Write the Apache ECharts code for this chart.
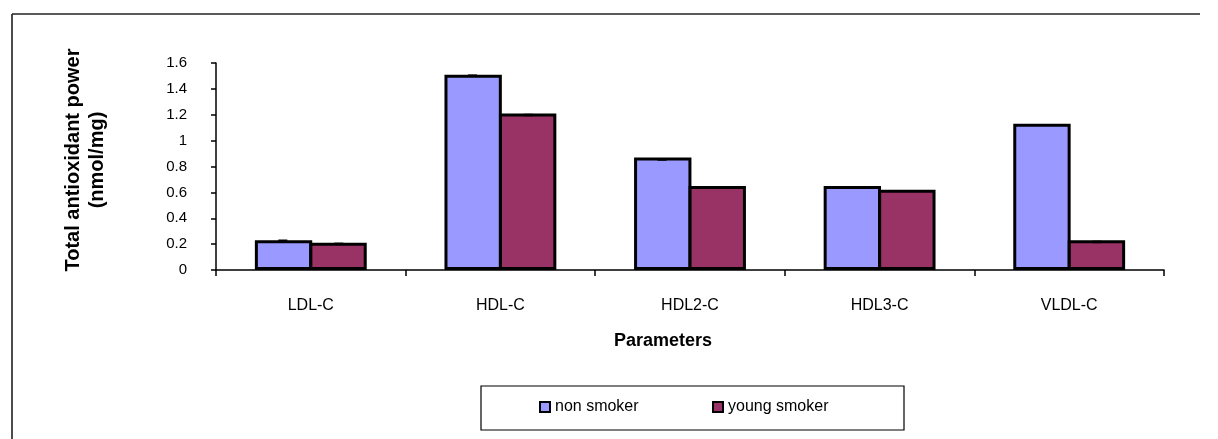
<!DOCTYPE html>
<html>
<head>
<meta charset="utf-8">
<style>
  html, body { margin: 0; padding: 0; background: #ffffff; }
  #chart { width: 1218px; height: 439px; }
</style>
<script src="https://cdn.jsdelivr.net/npm/echarts@6/dist/echarts.min.js"></script>
</head>
<body>
<div id="chart"></div>
<script>
// ---- data ----
const categories = ['LDL-C', 'HDL-C', 'HDL2-C', 'HDL3-C', 'VLDL-C'];
const nonSmoker = [0.23, 1.51, 0.87, 0.65, 1.13];
const youngSmoker = [0.21, 1.21, 0.65, 0.62, 0.23];
const nonSmokerErr = [0.004, 0.008, 0.016, 0.0, 0.0];
const youngSmokerErr = [0.008, 0.012, 0.012, 0.0, 0.013];
const yTicks = [0, 0.2, 0.4, 0.6, 0.8, 1, 1.2, 1.4, 1.6];
const seriesNames = ['non smoker', 'young smoker'];
const yAxisTitle = ['Total antioxidant power', '(nmol/mg)'];
const xAxisTitle = 'Parameters';

const FONT = '"Liberation Sans", Arial, sans-serif';
const colors = ['#9999FF', '#993366'];
const CAT_GAP = 0.41;

const chart = echarts.init(document.getElementById('chart'), null, { renderer: 'canvas' });

function errSeries(vals, errs, side) {
  const data = [];
  vals.forEach((v, i) => { if (errs[i] > 0) data.push([i, v - errs[i]]); });
  return {
    type: 'custom',
    name: 'err' + side,
    silent: true,
    z: 5,
    data: data,
    renderItem: function (params, api) {
      const p = api.coord([api.value(0), api.value(1)]);
      const band = api.size([1, 0])[0];
      const bw = band * (1 - CAT_GAP) / 2;
      const cx = p[0] + side * bw / 2;
      return {
        type: 'line',
        shape: { x1: cx - 4.5, y1: p[1], x2: cx + 4.5, y2: p[1] },
        style: { stroke: '#000', lineWidth: 2.5 }
      };
    }
  };
}

const option = {
  backgroundColor: '#ffffff',
  animation: false,
  textStyle: { fontFamily: FONT },
  grid: { left: 216, right: 54, top: 63, bottom: 169, containLabel: false },
  legend: [
    {
      data: [seriesNames[0]],
      left: 539, top: 399,
      itemWidth: 10, itemHeight: 10, itemGap: 4,
      icon: 'rect',
      textStyle: { fontSize: 16, color: '#000', fontFamily: FONT },
      padding: 0
    },
    {
      data: [seriesNames[1]],
      left: 712, top: 399,
      itemWidth: 10, itemHeight: 10, itemGap: 4,
      icon: 'rect',
      textStyle: { fontSize: 16, color: '#000', fontFamily: FONT },
      padding: 0
    }
  ],
  xAxis: {
    type: 'category',
    data: categories,
    boundaryGap: true,
    axisLine: { show: true, lineStyle: { color: '#000', width: 1.5 } },
    axisTick: { show: true, length: 6, inside: false, lineStyle: { color: '#000', width: 1.5 } },
    axisLabel: { fontSize: 16, color: '#000', margin: 28, fontFamily: FONT },
    splitLine: { show: false }
  },
  yAxis: {
    type: 'value',
    min: yTicks[0],
    max: yTicks[yTicks.length - 1],
    interval: yTicks[1] - yTicks[0],
    axisLine: { show: true, lineStyle: { color: '#000', width: 1.5 } },
    axisTick: { show: true, length: 5, inside: false, lineStyle: { color: '#000', width: 1.5 } },
    axisLabel: {
      fontSize: 15, color: '#000', margin: 29, fontFamily: FONT,
      formatter: function (v) { return String(Math.round(v * 10) / 10); }
    },
    splitLine: { show: false }
  },
  series: [
    {
      name: seriesNames[0],
      type: 'bar',
      data: nonSmoker,
      barGap: '-5%',
      barCategoryGap: (CAT_GAP * 100) + '%',
      itemStyle: { color: colors[0], borderColor: '#000', borderWidth: 3 },
      z: 2
    },
    {
      name: seriesNames[1],
      type: 'bar',
      data: youngSmoker,
      barGap: '-5%',
      barCategoryGap: (CAT_GAP * 100) + '%',
      itemStyle: { color: colors[1], borderColor: '#000', borderWidth: 3 },
      z: 2
    },
    errSeries(nonSmoker, nonSmokerErr, -1),
    errSeries(youngSmoker, youngSmokerErr, 1)
  ],
  graphic: [
    { type: 'line', shape: { x1: 12, y1: 14, x2: 1200, y2: 14 }, style: { stroke: '#222', lineWidth: 1.5 }, silent: true },
    { type: 'line', shape: { x1: 12, y1: 14, x2: 12, y2: 439 }, style: { stroke: '#111', lineWidth: 1.5 }, silent: true },
    {
      type: 'text', x: 73, y: 160, rotation: Math.PI / 2,
      style: { text: yAxisTitle[0], fontSize: 20, fontWeight: 'bold', fill: '#000', fontFamily: FONT, align: 'center', verticalAlign: 'middle' }
    },
    {
      type: 'text', x: 97, y: 160, rotation: Math.PI / 2,
      style: { text: yAxisTitle[1], fontSize: 20, fontWeight: 'bold', fill: '#000', fontFamily: FONT, align: 'center', verticalAlign: 'middle' }
    },
    {
      type: 'text', x: 663, y: 341,
      style: { text: xAxisTitle, fontSize: 18, fontWeight: 'bold', fill: '#000', fontFamily: FONT, align: 'center', verticalAlign: 'middle' }
    },
    {
      type: 'rect', shape: { x: 481, y: 386, width: 423, height: 44 },
      style: { fill: 'none', stroke: '#000', lineWidth: 1.2 }, silent: true, z: -1
    }
  ]
};

chart.setOption(option);
</script>
</body>
</html>
